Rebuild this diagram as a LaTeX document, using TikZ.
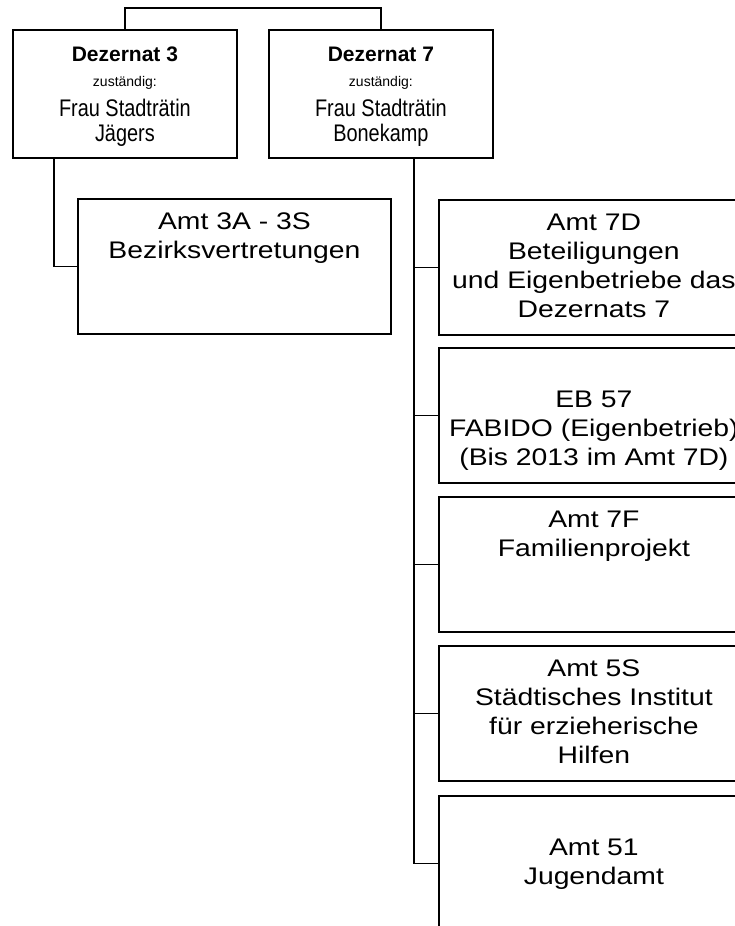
\documentclass[tikz,border=0pt]{standalone}
\usepackage{fontspec}
\setmainfont{Liberation Sans}
\newfontfamily\wideface[FakeStretch=1.18]{Liberation Sans}
\newfontfamily\narrowface[FakeStretch=0.83]{Liberation Sans}
\usetikzlibrary{positioning}

\tikzset{
  orgbox/.style={draw, line width=1.8pt, inner sep=0pt, anchor=north west},
  orgline/.style={line width=1.8pt}
}

% Kopf eines Dezernats
\newcommand{\dezbox}[2]{\parbox[c][128pt][t]{224pt}{\centering
  {\bfseries\fontsize{21}{25}\selectfont\rule{0pt}{32pt}Dezernat #1\par}
  {\fontsize{14}{25}\selectfont zuständig:\par}
  \vspace{5pt}
  {\narrowface\fontsize{24}{25}\selectfont Frau Stadträtin\\ #2\par}}}
% Text eines Amtes, oben im Kasten
\newcommand{\amtbox}[2][310pt]{\parbox[c][135pt][t]{#1}{\centering
  \wideface\fontsize{24}{29}\selectfont\rule{0pt}{31pt}#2\par}}

\begin{document}
\begin{tikzpicture}[x=1pt, y=-1pt]
  \useasboundingbox (0,0) rectangle (734,926);

  % Dezernate
  \node[orgbox] (dez3) at (12,29) {\dezbox{3}{Jägers}};
  \node[orgbox] (dez7) at (268,29) {\dezbox{7}{Bonekamp}};
  \draw[orgline] (dez3.north) -- ++(0,-21) -| (dez7.north); % Verbindung oben

  % Dezernat 3
  \node[orgbox] (amt3) at (77,198) {\amtbox[313pt]{Amt 3A - 3S\\ Bezirksvertretungen}};
  \draw[orgline] ([xshift=42pt]dez3.south west) |- (amt3.west);

  % Dezernat 7
  \node[orgbox] (amt7d) at (438,199) {\amtbox{Amt 7D\\ Beteiligungen\\ und Eigenbetriebe das\\ Dezernats 7}};
  \node[orgbox] (eb57) at (438,347) {\amtbox{\\ EB 57\\ FABIDO (Eigenbetrieb)\\ (Bis 2013 im Amt 7D)}};
  \node[orgbox] (amt7f) at (438,496) {\amtbox{Amt 7F\\ Familienprojekt}};
  \node[orgbox] (amt5s) at (438,645) {\amtbox{Amt 5S\\ Städtisches Institut\\ für erzieherische\\ Hilfen}};
  \node[orgbox] (amt51) at (438,795) {\amtbox{\\ Amt 51\\ Jugendamt}};

  \coordinate (spine) at ([xshift=146pt]dez7.south west); % senkrechte Linie
  \draw[orgline] (spine) |- (amt51.west);
  \foreach \n in {amt7d, eb57, amt7f, amt5s}
    \draw[orgline] (\n.west) -- (\n.west -| spine);
\end{tikzpicture}
\end{document}
